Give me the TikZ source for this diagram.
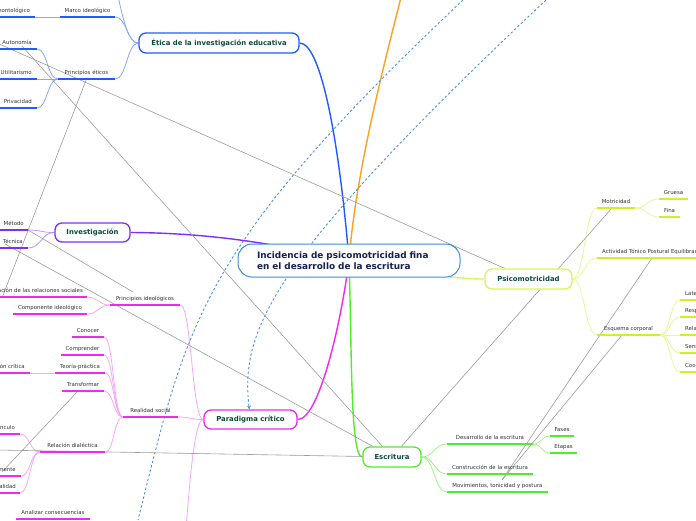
\documentclass[tikz,border=0pt]{standalone}
\usepackage{fontspec}
\setmainfont{DejaVu Sans}
\usetikzlibrary{calc,arrows.meta}
\pgfdeclarelayer{bg}
\pgfsetlayers{bg,main}
\definecolor{txt}{HTML}{333333}
\definecolor{ttl}{HTML}{0B4A3A}
\definecolor{navy}{HTML}{152050}
\definecolor{cenB}{HTML}{3A8ED4}
\definecolor{bB}{HTML}{1F5BFF}
\definecolor{bL}{HTML}{86A6FF}
\definecolor{pB}{HTML}{7B2FF7}
\definecolor{pL}{HTML}{B898FF}
\definecolor{yB}{HTML}{D2EE2A}
\definecolor{yN}{HTML}{DDF25C}
\definecolor{yL}{HTML}{E8F79A}
\definecolor{gB}{HTML}{50EE2A}
\definecolor{gL}{HTML}{A0F48A}
\definecolor{mB}{HTML}{EE2AEE}
\definecolor{mL}{HTML}{F5A8F5}
\definecolor{orng}{HTML}{FFA01A}
\definecolor{dsb}{HTML}{4C92E6}
\definecolor{relg}{HTML}{9C9C9C}
\newcommand\ulc[2]{\draw[ul,draw=#1] (#2.south west) -- (#2.south east);}
\newcommand\ull[2]{\draw[ul,draw=#1] (#2.south east) -- (#2.south east -| lft);}
\newcommand\ulr[2]{\draw[ul,draw=#1] (#2.south west) -- (#2.south west -| rgt);}
\begin{document}
\begin{tikzpicture}[x=1pt,y=-1pt,
  lbl/.style={anchor=south, inner xsep=0pt, inner ysep=4pt, text height=3.9pt, text depth=0pt, font=\fontsize{5.4}{6}\selectfont, text=txt},
  lblL/.style={lbl, anchor=south east, inner xsep=5pt},
  lblR/.style={lbl, anchor=south west, inner xsep=5pt},
  ul/.style={line width=1.8pt},
  cn/.style={line width=0.8pt},
  mb/.style={line width=1.4pt},
  mainbox/.style={draw, rounded corners=7pt, line width=1.3pt, fill=white, font=\fontsize{6.9}{8}\selectfont\bfseries, text=ttl, inner sep=0pt},
  sc/.style={to path={let \p1=(\tikztostart), \p2=(\tikztotarget) in .. controls ({(\x1+\x2)/2},\y1) and ({(\x1+\x2)/2},\y2) .. (\tikztotarget)}},
  rel/.style={draw=relg, line width=0.6pt},
  dsh/.style={draw=dsb, line width=0.9pt, dash pattern=on 2.4pt off 2.2pt},
]
\useasboundingbox (0,0) rectangle (696,520);
\clip (0,0) rectangle (696,520);
\coordinate (lft) at (-20,0);
\coordinate (rgt) at (716,0);
\coordinate (eUp) at (100,-40);
\coordinate (pDn) at (170,620);
\coordinate (oTop) at (408,-30);
% main nodes
\node[mainbox, draw=cenB, line width=1pt, rounded corners=14pt, minimum width=222, minimum height=33, text width=184, align=left, font=\fontsize{8.9}{10.6}\selectfont\bfseries, text=navy] (cen) at (349,260.5) {Incidencia de psicomotricidad fina\\en el desarrollo de la escritura};
\node[mainbox, draw=bB, minimum width=160, minimum height=20] (eth) at (219,43) {Ética de la investigación educativa};
\node[mainbox, draw=pB, minimum width=75, minimum height=19] (inv) at (92.5,232.5) {Investigación};
\node[mainbox, draw=yN, minimum width=87, minimum height=20] (psi) at (528.5,279) {Psicomotricidad};
\node[mainbox, draw=gB, minimum width=58, minimum height=20] (esc) at (392,457) {Escritura};
\node[mainbox, draw=mB, minimum width=93, minimum height=19] (par) at (250.5,419.5) {Paradigma crítico};
% labels
\node[lblL] (deo) at (35,17) {Deontológico};
\node[lbl, minimum width=55] (mi) at (87.5,17) {Marco ideológico};
\node[lbl, minimum width=57] (pe) at (86.5,79) {Principios éticos};
\node[lblL] (aut) at (37,49) {Autonomía};
\node[lblL] (uti) at (37,79) {Utilitarismo};
\node[lblL] (pri) at (37,108) {Privacidad};
\node[lblL, inner xsep=4pt] (met) at (28,230) {Método};
\node[lblL] (tec) at (28,248) {Técnica};
\node[lbl, minimum width=38] (mot) at (616,208) {Motricidad};
\node[lbl, minimum width=29] (gru) at (673.5,199) {Gruesa};
\node[lbl, minimum width=21] (fin) at (669.5,217) {Fina};
\node[lblR] (atp) at (597,258) {Actividad Tónico Postural Equilibrada};
\node[lbl, minimum width=63] (esq) at (628.5,335) {Esquema corporal};
\node[lblR] (lat) at (680,300) {Lateralidad};
\node[lblR] (res) at (680,317) {Respiración};
\node[lblR] (rlj) at (680,335) {Relajación};
\node[lblR] (sen) at (680,353) {Sensopercepción};
\node[lblR] (coo) at (680,372) {Coordinación};
\node[lbl, minimum width=86] (des) at (490,444) {Desarrollo de la escritura};
\node[lbl, minimum width=24] (fas) at (562,436) {Fases};
\node[lbl, minimum width=27] (eta) at (563.5,453) {Etapas};
\node[lbl, minimum width=86] (con) at (490,474) {Construcción de la escritura};
\node[lbl, minimum width=101] (mov) at (497.5,492) {Movimientos, tonicidad y postura};
\node[lbl, minimum width=70] (pid) at (145,305) {Principios ideológicos};
\node[lblL, inner xsep=4pt] (trs) at (87,297) {Transformación de las relaciones sociales};
\node[lbl, minimum width=74] (cid) at (50,314) {Componente ideológico};
\node[lbl, minimum width=55] (rso) at (150.5,417) {Realidad social};
\node[lbl, minimum width=32] (cno) at (88,337) {Conocer};
\node[lbl, minimum width=43] (cmp) at (82.5,355) {Comprender};
\node[lbl, minimum width=50] (tp) at (80,373) {Teoría-práctica};
\node[lblL] (rc) at (30,373) {Reflexión crítica};
\node[lbl, minimum width=42] (tra) at (83,391) {Transformar};
\node[lbl, minimum width=65] (rd) at (72.5,452) {Relación dialéctica};
\node[lblL] (vin) at (20,434) {Vínculo};
\node[lblL] (men) at (21,476) {Críticamente};
\node[lblL, inner xsep=4pt] (rea) at (20,493) {Totalidad};
\node[lbl, minimum width=74] (ana) at (53,519) {Analizar consecuencias};
% underlines
\ull{bB}{deo} \ulc{bB}{mi} \ulc{bB}{pe} \ull{bB}{aut} \ull{bB}{uti} \ull{bB}{pri}
\ull{pB}{met} \ull{pB}{tec}
\ulc{yB}{mot} \ulc{yB}{gru} \ulc{yB}{fin} \ulr{yB}{atp} \ulc{yB}{esq}
\ulr{yB}{lat} \ulr{yB}{res} \ulr{yB}{rlj} \ulr{yB}{sen} \ulr{yB}{coo}
\ulc{gB}{des} \ulc{gB}{fas} \ulc{gB}{eta} \ulc{gB}{con} \ulc{gB}{mov}
\ulc{mB}{pid} \ull{mB}{trs} \ulc{mB}{cid} \ulc{mB}{rso} \ulc{mB}{cno} \ulc{mB}{cmp}
\ulc{mB}{tp} \ull{mB}{rc} \ulc{mB}{tra} \ulc{mB}{rd} \ull{mB}{vin} \ull{mB}{men} \ull{mB}{rea} \ulc{mB}{ana}
% coordinates for relation lines
\coordinate (g1) at (-3,43);
\coordinate (g2) at (22,46);
\coordinate (g3s) at (86.5,79);
\coordinate (g3) at (2,298);
\coordinate (g4) at (133,292);
\coordinate (g5) at (5,244);
\coordinate (g6) at (-3,450);
\coordinate (g7s) at (78,391);
\coordinate (g7) at (2,472);
\coordinate (g8s) at (612,208);
\coordinate (g9s) at (652,258);
\coordinate (g10s) at (622,335);
\coordinate (g9) at (502,480);
\coordinate (dA1) at (463,0);
\coordinate (dA2) at (138,520);
\coordinate (dB1) at (546,0);
\begin{pgfonlayer}{bg}
\fill[white] (0,0) rectangle (696,520);
% main branches
\draw[mb, draw=bB] (eth.east) .. controls (322,43) and (340,150) .. (cen.center);
\draw[mb, draw=orng] (cen.center) .. controls (356,170) and (385,60) .. (oTop);
\draw[mb, draw=pB] (inv.east) .. controls (230,233) and (300,250) .. (cen.center);
\draw[mb, draw=yN] (psi.west) .. controls (430,279) and (400,263) .. (cen.center);
\draw[mb, draw=mB] (par.east) .. controls (318,420) and (340,330) .. (cen.center);
\draw[mb, draw=gB] (cen.center) .. controls (352,350) and (350,457) .. (esc.west);
% sub connectors
\draw[cn, draw=bL] (eth.west) to[sc] (mi.south east);
\draw[cn, draw=bL] (eth.west) to[sc] (pe.south east);
\draw[cn, draw=bL] (eth.west) to[sc] (eUp);
\draw[cn, draw=bL] (mi.south west) -- (deo.south east);
\draw[cn, draw=bL] (pe.south west) to[sc] (aut.south east);
\draw[cn, draw=bL] (pe.south west) to[sc] (uti.south east);
\draw[cn, draw=bL] (pe.south west) to[sc] (pri.south east);
\draw[cn, draw=pL] (inv.west) to[sc] (met.south east);
\draw[cn, draw=pL] (inv.west) to[sc] (tec.south east);
\draw[cn, draw=yL] (psi.east) to[sc] (mot.south west);
\draw[cn, draw=yL] (psi.east) to[sc] (atp.south west);
\draw[cn, draw=yL] (psi.east) to[sc] (esq.south west);
\draw[cn, draw=yL] (mot.south east) to[sc] (gru.south west);
\draw[cn, draw=yL] (mot.south east) to[sc] (fin.south west);
\draw[cn, draw=yL] (esq.south east) to[sc] (lat.south west);
\draw[cn, draw=yL] (esq.south east) to[sc] (res.south west);
\draw[cn, draw=yL] (esq.south east) to[sc] (rlj.south west);
\draw[cn, draw=yL] (esq.south east) to[sc] (sen.south west);
\draw[cn, draw=yL] (esq.south east) to[sc] (coo.south west);
\draw[cn, draw=gL] (esc.east) to[sc] (des.south west);
\draw[cn, draw=gL] (esc.east) to[sc] (con.south west);
\draw[cn, draw=gL] (esc.east) to[sc] (mov.south west);
\draw[cn, draw=gL] (des.south east) to[sc] (fas.south west);
\draw[cn, draw=gL] (des.south east) to[sc] (eta.south west);
\draw[cn, draw=mL] (par.west) to[sc] (pid.south east);
\draw[cn, draw=mL] (par.west) to[sc] (rso.south east);
\draw[cn, draw=mL] (par.west) to[sc] (pDn);
\draw[cn, draw=mL] (pid.south west) to[sc] (trs.south east);
\draw[cn, draw=mL] (pid.south west) to[sc] (cid.south east);
\draw[cn, draw=mL] (rso.south west) to[sc] (cno.south east);
\draw[cn, draw=mL] (rso.south west) to[sc] (cmp.south east);
\draw[cn, draw=mL] (rso.south west) to[sc] (tp.south east);
\draw[cn, draw=mL] (rso.south west) to[sc] (tra.south east);
\draw[cn, draw=mL] (rso.south west) to[sc] (rd.south east);
\draw[cn, draw=mL] (tp.south west) -- (rc.south east);
\draw[cn, draw=mL] (rd.south west) to[sc] (vin.south east);
\draw[cn, draw=mL] (rd.south west) to[sc] (men.south east);
\draw[cn, draw=mL] (rd.south west) to[sc] (rea.south east);
% dashed relations
\draw[dsh] (dA1) .. controls (198,250) and (188,320) .. (dA2);
\draw[dsh, -{Stealth[length=4pt,width=4pt]}] (dB1) .. controls (270,260) and (240,330) .. (par);
% gray relations
\draw[rel] (g1) -- (psi);
\draw[rel] (g2) -- (esc);
\draw[rel] (g3s) -- (g3);
\draw[rel] (met.south east) -- (g4);
\draw[rel] (g5) -- (esc);
\draw[rel] (g6) -- (esc);
\draw[rel] (g7s) -- (g7);
\draw[rel] (g8s) -- (esc);
\draw[rel] (g9s) -- (g9);
\draw[rel] (g10s) -- (g9);
\end{pgfonlayer}
\end{tikzpicture}
\end{document}
